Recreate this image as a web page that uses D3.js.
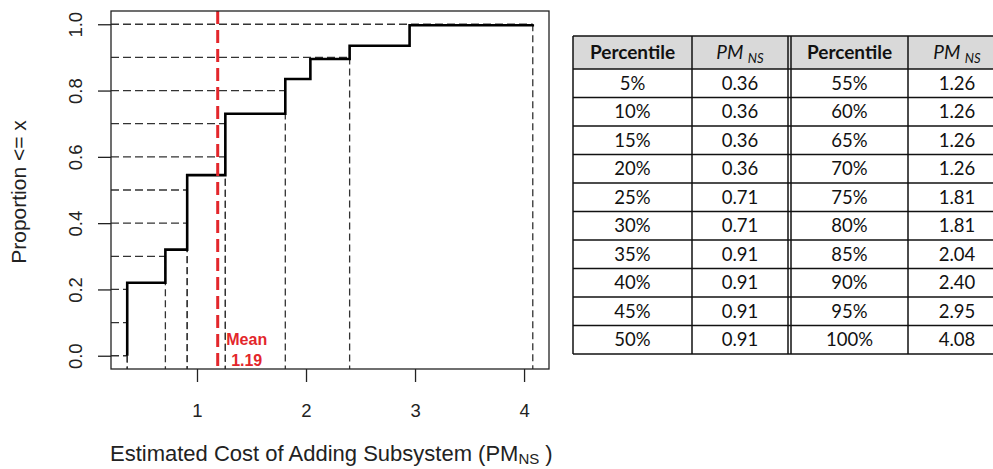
<!DOCTYPE html>
<html>
<head>
<meta charset="utf-8">
<script src="https://cdn.jsdelivr.net/npm/d3@7"></script>
<style>
  body { margin: 0; background: #fff; }
  svg { display: block; }
</style>
</head>
<body>
<div id="chart"></div>
<script>
// ECDF step points (value, cumulative proportion)
const stepX = [0.36, 0.71, 0.91, 1.26, 1.81, 2.04, 2.40, 2.95, 4.08];
const stepY = [0.22, 0.32, 0.545, 0.73, 0.835, 0.895, 0.935, 0.997, 1.0];
const meanValue = 1.19;

// percentile table
const pctLabels = ["5%","10%","15%","20%","25%","30%","35%","40%","45%","50%",
                   "55%","60%","65%","70%","75%","80%","85%","90%","95%","100%"];
const pctValues = [0.36,0.36,0.36,0.36,0.71,0.71,0.91,0.91,0.91,0.91,
                   1.26,1.26,1.26,1.26,1.81,1.81,2.04,2.40,2.95,4.08];

const yTicks = [0, 0.2, 0.4, 0.6, 0.8, 1.0];
const xTicks = [1, 2, 3, 4];

const width = 993, height = 469;
const box = {left: 111, right: 549, top: 11, bottom: 369};
const axFont = "'Liberation Sans', Arial, sans-serif";

let svg = d3.select("#chart").append("svg")
    .attr("width", width)
    .attr("height", height)
    .style("font-family", axFont);

// R-style 4% padding on the ranges
let xmin = d3.min(stepX), xmax = d3.max(stepX);
let xpad = (xmax - xmin) * 0.04;
let x = d3.scaleLinear().domain([xmin - xpad, xmax + xpad]).range([box.left, box.right]);
let y = d3.scaleLinear().domain([-0.04, 1.04]).range([box.bottom, box.top]);

// guide lines at every 10% quantile (0% = minimum)
let guides = [{p: 0, q: pctValues[0]}];
pctLabels.forEach(function(l, i) {
  if (parseInt(l) % 10 === 0) guides.push({p: parseInt(l) / 100, q: pctValues[i]});
});

let g = svg.append("g");

g.selectAll(".hguide").data(guides).enter().append("line")
    .attr("class", "hguide")
    .attr("x1", box.left).attr("x2", d => x(d.q))
    .attr("y1", d => y(d.p)).attr("y2", d => y(d.p))
    .attr("stroke", "#333").attr("stroke-width", 1.3)
    .attr("stroke-dasharray", "8,4");

g.selectAll(".vguide").data(guides.filter(d => d.p > 0)).enter().append("line")
    .attr("class", "vguide")
    .attr("x1", d => x(d.q)).attr("x2", d => x(d.q))
    .attr("y1", d => y(d.p)).attr("y2", box.bottom)
    .attr("stroke", "#333").attr("stroke-width", 1.3)
    .attr("stroke-dasharray", "7,4");

// step line
let pts = [[stepX[0], 0]].concat(stepX.map((v, i) => [v, stepY[i]]));
let line = d3.line().x(d => x(d[0])).y(d => y(d[1])).curve(d3.curveStepAfter);
g.append("path")
    .attr("d", line(pts))
    .attr("fill", "none")
    .attr("stroke", "#000")
    .attr("stroke-width", 2.6);

// mean line
g.append("line")
    .attr("x1", x(meanValue)).attr("x2", x(meanValue))
    .attr("y1", box.top).attr("y2", box.bottom)
    .attr("stroke", "#e3262b").attr("stroke-width", 3)
    .attr("stroke-dasharray", "13,6");

let meanLbl = g.append("text")
    .attr("text-anchor", "middle")
    .attr("fill", "#e3262b")
    .attr("font-weight", "bold")
    .attr("font-size", 16);
meanLbl.append("tspan").attr("x", x(meanValue) + 29).attr("y", 345).text("Mean");
meanLbl.append("tspan").attr("x", x(meanValue) + 29).attr("y", 366).text(meanValue.toFixed(2));

// box
svg.append("rect")
    .attr("x", box.left).attr("y", box.top)
    .attr("width", box.right - box.left).attr("height", box.bottom - box.top)
    .attr("fill", "none").attr("stroke", "#222").attr("stroke-width", 1.3);

// axes
let yAxis = svg.append("g")
    .attr("transform", "translate(" + box.left + ",0)")
    .call(d3.axisLeft(y).tickValues(yTicks).tickSize(13).tickFormat(d3.format(".1f")));
yAxis.select(".domain").remove();
yAxis.selectAll("line").attr("stroke", "#222").attr("stroke-width", 1.3);
yAxis.selectAll("text")
    .attr("transform", "rotate(-90)")
    .attr("x", 0).attr("y", -29).attr("dy", 0)
    .attr("text-anchor", "middle")
    .attr("fill", "#222")
    .style("font-size", "18.5px")
    .style("font-family", axFont);

let xAxis = svg.append("g")
    .attr("transform", "translate(0," + box.bottom + ")")
    .call(d3.axisBottom(x).tickValues(xTicks).tickSize(13).tickFormat(d3.format("d")));
xAxis.select(".domain").remove();
xAxis.selectAll("line").attr("stroke", "#222").attr("stroke-width", 1.3);
xAxis.selectAll("text")
    .attr("y", 48).attr("dy", 0)
    .attr("fill", "#222")
    .style("font-size", "18.5px")
    .style("font-family", axFont);

// axis titles
svg.append("text")
    .attr("transform", "translate(26,192) rotate(-90)")
    .attr("text-anchor", "middle")
    .attr("fill", "#222")
    .attr("font-size", 21)
    .text("Proportion <= x");

let xt = svg.append("text")
    .attr("x", 110).attr("y", 461)
    .attr("fill", "#222")
    .attr("font-size", 22);
xt.append("tspan").text("Estimated Cost of Adding Subsystem (PM");
xt.append("tspan").attr("font-size", 15).attr("dy", 3).text("NS");
xt.append("tspan").attr("dy", -3).text(" )");

// table
const tFont = "Lato, 'Open Sans', sans-serif";
let colX = [573, 692, 791, 908, 1006];
let headTop = 36, headBot = 69, rowH = 28.5;
let nRows = 10;
let tbl = svg.append("g").style("font-family", tFont);

// header background
tbl.append("rect")
    .attr("x", colX[0]).attr("y", headTop)
    .attr("width", colX[4] - colX[0]).attr("height", headBot - headTop)
    .attr("fill", "#d9d9d9");

let rowLines = d3.range(nRows + 2).map(i => i === 0 ? headTop : headBot + (i - 1) * rowH);
tbl.selectAll(".hl").data(rowLines).enter().append("line")
    .attr("x1", colX[0]).attr("x2", colX[4])
    .attr("y1", d => d).attr("y2", d => d)
    .attr("stroke", "#111").attr("stroke-width", 1.5);
let tBottom = rowLines[rowLines.length - 1];
tbl.selectAll(".vl").data([colX[0], colX[1], colX[2] - 3, colX[2], colX[3], colX[4]]).enter().append("line")
    .attr("x1", d => d).attr("x2", d => d)
    .attr("y1", headTop).attr("y2", tBottom)
    .attr("stroke", "#111").attr("stroke-width", 1.5);

let colCenters = [(colX[0] + colX[1]) / 2, (colX[1] + colX[2] - 3) / 2,
                  (colX[2] + colX[3]) / 2, (colX[3] + colX[4]) / 2];
let headY = (headTop + headBot) / 2;
[0, 2].forEach(function(c) {
  tbl.append("text")
      .attr("x", colCenters[c]).attr("y", headY).attr("dy", "0.35em")
      .attr("text-anchor", "middle").attr("font-weight", "bold")
      .attr("font-size", 19).attr("fill", "#111")
      .text("Percentile");
  let t = tbl.append("text")
      .attr("x", colCenters[c + 1]).attr("y", headY).attr("dy", "0.35em")
      .attr("text-anchor", "middle").attr("font-style", "italic")
      .attr("font-size", 19).attr("fill", "#111");
  t.append("tspan").text("PM ");
  t.append("tspan").attr("font-size", 13).attr("dy", 4).text("NS");
});

let cells = [];
pctLabels.forEach(function(l, i) {
  let half = Math.floor(i / nRows), r = i % nRows;
  cells.push({col: half * 2, row: r, text: l});
  cells.push({col: half * 2 + 1, row: r, text: pctValues[i].toFixed(2)});
});
tbl.selectAll(".cell").data(cells).enter().append("text")
    .attr("x", d => colCenters[d.col])
    .attr("y", d => headBot + rowH * (d.row + 0.5))
    .attr("dy", "0.35em")
    .attr("text-anchor", "middle")
    .attr("font-size", 18.5).attr("fill", "#111")
    .text(d => d.text);
</script>
</body>
</html>
